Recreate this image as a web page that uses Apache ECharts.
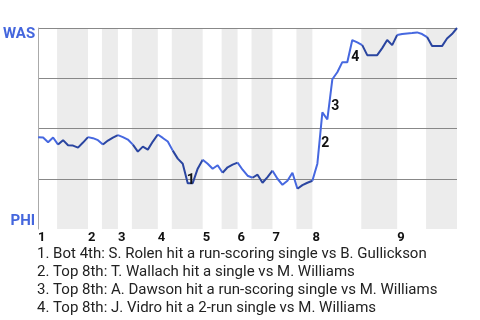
<!DOCTYPE html>
<html><head><meta charset="utf-8">
<script src="https://cdn.jsdelivr.net/npm/echarts@6/dist/echarts.min.js"></script>
<style>html,body{margin:0;padding:0;background:#fff}#c{width:480px;height:320px}</style>
</head><body><div id="c"></div>
<script>
// Inning labels and where each inning starts (event index)
const innings = ['1','2','3','4','5','6','7','8','9'];
const inningStart = [0, 10, 16, 24, 33, 40, 47, 55, 72];
// Event index at which each half-inning starts (top 1st, bot 1st, top 2nd, ...), last = final event
const halfInningStart = [0, 4, 10, 13, 16, 19, 24, 27, 33, 37, 40, 43, 47, 52, 55, 65, 72, 78, 84];
// Shaded bottom half-innings, [start, end] on the event axis
const bottomHalves = [[3.8,10],[12.8,16],[18.8,24],[26.8,33],[36.8,40],[42.8,47],[51.8,55],[64.8,72],[77.8,84]];
// Washington win probability after each event (0 = PHI wins, 1 = WAS wins)
const wasWinProb = [
  0.457,0.455,0.432,0.455,0.420,0.442,0.417,0.415,0.405,0.430,
  0.457,0.452,0.442,0.420,0.440,0.455,0.467,0.457,0.445,0.420,
  0.385,0.410,0.395,0.435,0.470,0.453,0.435,0.390,0.350,0.325,
  0.228,0.228,0.300,0.345,0.325,0.300,0.317,0.280,0.307,0.320,
  0.330,0.295,0.265,0.255,0.270,0.230,0.258,0.290,0.250,0.220,
  0.240,0.280,0.200,0.218,0.230,0.240,0.325,0.580,0.545,0.745,
  0.780,0.830,0.830,0.940,0.928,0.915,0.865,0.865,0.865,0.900,
  0.940,0.915,0.965,0.970,0.973,0.975,0.978,0.970,0.955,0.910,
  0.910,0.910,0.948,0.970,1.000
];
const yTeams = ['PHI', 'WAS'];
// Key events
const eventIdx = [30, 56, 58, 63];
const eventMarks = ['1', '2', '3', '4'];
const eventText = [
  '1. Bot 4th: S. Rolen hit a run-scoring single vs B. Gullickson',
  '2. Top 8th: T. Wallach hit a single vs M. Williams',
  '3. Top 8th: A. Dawson hit a run-scoring single vs M. Williams',
  '4. Top 8th: J. Vidro hit a 2-run single vs M. Williams'
];

const markOffsets = [[3,-3],[8,-20],[8,-13],[3,17]];
const lightBlue = '#4668e0', darkBlue = '#2a45a0';

const lineData = wasWinProb.map((v, i) => [i, v]);
const nEvents = wasWinProb.length - 1;

const series = [];
for (let h = 0; h < halfInningStart.length - 1; h++) {
  const col = h % 2 ? darkBlue : lightBlue;
  const s = {
    type: 'line', data: lineData.slice(halfInningStart[h], halfInningStart[h + 1] + 1),
    showSymbol: false, symbol: 'none', z: 2,
    lineStyle: { width: 2, color: col }, itemStyle: { color: col }
  };
  if (h === 0) {
    s.markArea = {
      silent: true,
      itemStyle: { color: '#ececec' },
      data: bottomHalves.map(([a, b]) => [{ xAxis: a }, { xAxis: b }])
    };
    s.markPoint = {
      symbol: 'rect', symbolSize: 1, itemStyle: { color: 'transparent' }, silent: true,
      label: {
        show: true, position: 'inside', formatter: p => p.name,
        fontFamily: 'Roboto', fontWeight: 'bold', fontSize: 14, color: '#111'
      },
      data: eventIdx.map((ix, k) => ({
        name: eventMarks[k], coord: [ix, wasWinProb[ix]],
        label: { offset: markOffsets[k] }
      }))
    };
  }
  series.push(s);
}
// last half-inning line drawn above the marker labels order doesn't matter

const chart = echarts.init(document.getElementById('c'), null, { renderer: 'canvas' });
chart.setOption({
  animation: false,
  grid: { left: 37, right: 23, top: 28, bottom: 91, containLabel: false },
  xAxis: {
    type: 'value', min: 0, max: nEvents,
    axisLine: { show: false }, axisTick: { show: false }, splitLine: { show: false },
    axisLabel: {
      customValues: inningStart,
      formatter: v => { const k = inningStart.indexOf(v); return k >= 0 ? innings[k] : ''; },
      align: 'left', margin: 2,
      fontFamily: 'Roboto', fontWeight: 'bold', fontSize: 13, color: '#111'
    }
  },
  yAxis: [{
    type: 'value', min: 0, max: 1, interval: 0.25, z: 1.5,
    axisLine: { show: true, lineStyle: { color: '#aaa', width: 1 } },
    axisTick: { show: false },
    splitLine: { show: true, lineStyle: { color: ['transparent', '#888', '#888', '#888', '#888'], width: 1 } },
    axisLabel: {
      formatter: v => v === 1 ? yTeams[1] : '',
      verticalAlign: 'top', lineHeight: 12, margin: 3,
      fontFamily: 'Roboto', fontWeight: 'bold', fontSize: 15, color: '#4466dd'
    }
  }, {
    type: 'value', min: 0, max: 1, interval: 0.25, position: 'left',
    axisLine: { show: false }, axisTick: { show: false }, splitLine: { show: false },
    axisLabel: {
      formatter: v => v === 0 ? yTeams[0] : '',
      verticalAlign: 'bottom', lineHeight: 16, margin: 3,
      fontFamily: 'Roboto', fontWeight: 'bold', fontSize: 15, color: '#4466dd'
    }
  }],
  series: series,
  graphic: [{
    type: 'text', left: 37, top: 245,
    style: {
      text: eventText.join('\n'), fill: '#222',
      font: '15px Roboto', lineHeight: 18
    }
  }]
});
</script></body></html>
